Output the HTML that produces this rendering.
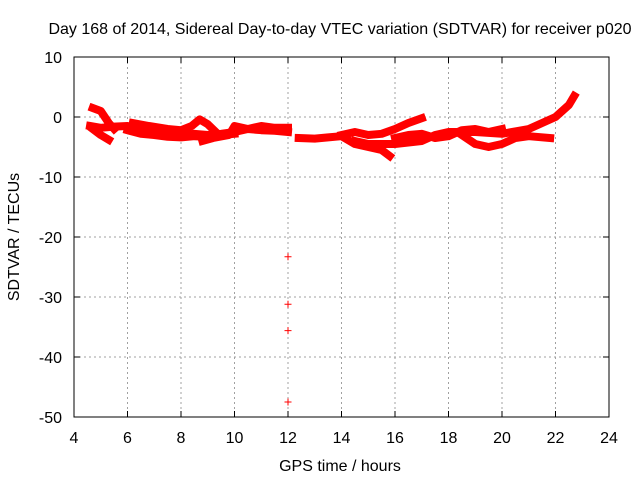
<!DOCTYPE html>
<html><head><meta charset="utf-8"><style>
body{margin:0;background:#fff}
svg{font-family:"Liberation Sans",sans-serif;font-size:16px}
</style></head><body>
<svg id="c" width="640" height="480" xmlns="http://www.w3.org/2000/svg">
<text x="340" y="34" text-anchor="middle">Day 168 of 2014, Sidereal Day-to-day VTEC variation (SDTVAR) for receiver p020</text>
<text x="340" y="471" text-anchor="middle">GPS time / hours</text>
<text transform="translate(19,237) rotate(-90)" text-anchor="middle">SDTVAR / TECUs</text>
<g id="grid"></g><g id="data"></g>
<rect x="74" y="57" width="535" height="360" fill="none" stroke="#000" stroke-width="1"/>
</svg>
<script>
const xTicks=[4,6,8,10,12,14,16,18,20,22,24];
const yTicks=[10,0,-10,-20,-30,-40,-50];
const tracks=[
[[4.6,-1.5],[5,-1.8],[5.5,-1.6],[6,-1.5],[6.5,-2],[7,-2.5],[7.5,-2.8],[8,-3],[8.5,-2.8],[9,-3],[9.5,-2.8],[10,-2.5],[10.5,-2],[11,-2.2],[11.5,-2.3],[12,-2.5]],
[[6,-2.2],[6.5,-2.8],[7,-3],[7.5,-3.3],[8,-3.4],[8.5,-3.2],[9,-3.3],[9.5,-3],[10,-2.8]],
[[6.2,-1],[6.8,-1.5],[7.5,-2],[8,-2.2],[8.4,-1.5],[8.7,-0.4],[9,-1.2],[9.3,-2.5]],
[[8.8,-4],[9.2,-3.5],[9.8,-3],[10,-1.5],[10.5,-2],[11,-1.5],[11.5,-1.8],[12,-1.8]],
[[12.4,-3.5],[13,-3.6],[13.5,-3.4],[14,-3.2],[14.5,-4.5],[15,-5],[15.5,-5.5],[15.8,-6.5]],
[[14,-3],[14.5,-2.5],[15,-3],[15.5,-2.8],[16,-2],[16.5,-1],[17,-0.2]],
[[14.5,-4],[15,-4.5],[16,-4.5],[17,-4],[17.5,-3],[18,-2.5],[19,-2.5],[20,-2.8],[21,-2],[21.5,-1],[22,0],[22.5,2],[22.7,3.5]],
[[16,-3.5],[16.5,-3],[17,-2.8],[17.5,-3.5],[18,-3.2],[18.5,-2.2],[19,-2],[19.5,-2.5],[20,-2]],
[[18.5,-3],[19,-4.5],[19.5,-5],[20,-4.5],[20.5,-3.5],[21,-3.2],[21.8,-3.5]],
[[4.7,1.5],[5,1],[5.3,-1],[5.5,-2]],
[[4.7,-2],[5,-3],[5.3,-3.8]]
];
const outX=[12,12,12,12];
const outY=[-23.3,-31.2,-35.6,-47.5];
const X=v=>74+(v-4)*535/20, Y=v=>57+(10-v)*360/60;
const NS="http://www.w3.org/2000/svg";
const svg=document.getElementById('c'),grid=document.getElementById('grid'),dg=document.getElementById('data');
function mk(t,a,p){const e=document.createElementNS(NS,t);for(const k in a)e.setAttribute(k,a[k]);p.appendChild(e);return e;}
xTicks.forEach(t=>{const x=X(t);
 if(t>4&&t<24){const l=mk('line',{x1:x,x2:x,y1:57,y2:417,stroke:'#a0a0a0','stroke-dasharray':'2,3'},grid);
 
 }
 mk('line',{x1:x,x2:x,y1:417,y2:411,stroke:'#000'},grid);mk('line',{x1:x,x2:x,y1:57,y2:63,stroke:'#000'},grid);
 const tx=mk('text',{x:x,y:443,'text-anchor':'middle'},svg);tx.textContent=t;
 
 });
yTicks.forEach(t=>{const y=Y(t);
 if(t<10&&t>-50){const l=mk('line',{x1:74,x2:609,y1:y,y2:y,stroke:'#a0a0a0','stroke-dasharray':'2,3'},grid);
 
 }
 mk('line',{x1:74,x2:80,y1:y,y2:y,stroke:'#000'},grid);mk('line',{x1:609,x2:603,y1:y,y2:y,stroke:'#000'},grid);
 const tx=mk('text',{x:62,y:y+6,'text-anchor':'end'},svg);tx.textContent=t;
 
 });
tracks.forEach(tr=>{const p=mk('polyline',{points:tr.map(d=>X(d[0])+','+Y(d[1])).join(' '),fill:'none',stroke:'#f00','stroke-width':8,'stroke-linejoin':'round','stroke-linecap':'square'},dg);
 
 });
outX.forEach((v,i)=>{const x=X(v),y=Y(outY[i]);
 const p=mk('path',{d:`M${x-3.5},${y}h7M${x},${y-3.5}v7`,stroke:'#f00','stroke-width':1},dg);
 
 });
</script>
</body></html>
